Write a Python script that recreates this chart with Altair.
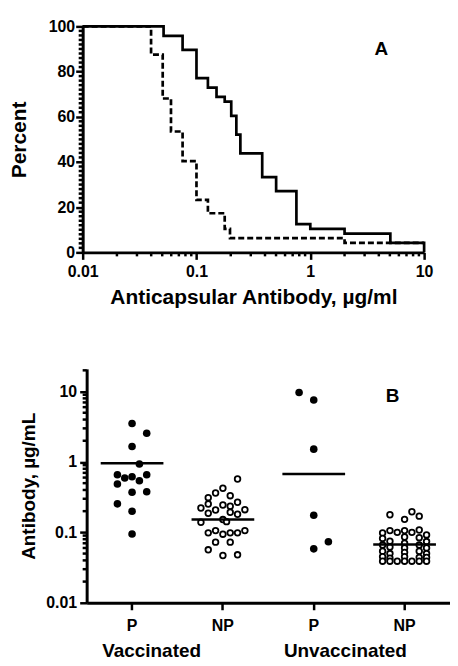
import altair as alt
import pandas as pd

FONT = "Liberation Sans"

# ---------------- Panel A: reverse cumulative distributions ----------------
solid_x = [0.01, 0.0514, 0.0755, 0.1, 0.126, 0.150, 0.177, 0.202, 0.224, 0.243,
           0.378, 0.501, 0.755, 1.0, 2.0, 5.05, 10.0]
solid_y = [100, 95.8, 89.6, 77.1, 72.9, 68.8, 66.7, 60.4, 52.1, 43.8,
           33.3, 27.1, 12.5, 10.4, 8.3, 4.2, 0]
dash_x = [0.01, 0.0399, 0.0505, 0.0597, 0.0755, 0.1, 0.126, 0.177, 0.197, 2.0, 10.0]
dash_y = [100, 87.5, 68.1, 53.5, 40.4, 23.2, 17.3, 10.4, 6.3, 4.2, 4.2]

x_major_a = [0.01, 0.1, 1.0, 10.0]
x_minor_a = [m * 10.0 ** e for e in (-2, -1, 0) for m in range(2, 10)]
y_major_a = [0, 20, 40, 60, 80, 100]
y_minor_a = [v for v in range(0, 101, 2) if v % 20 != 0]

# ---------------- Panel B: scatter by group ----------------
cats = ["VP", "VNP", "UP", "UNP"]

vp_values = [3.52, 2.56, 1.66, 0.933, 0.659, 0.486, 0.591, 0.618, 0.542, 0.659,
             0.371, 0.378, 0.254, 0.200, 0.095]
vp_offsets = [0, 2, 0, 1, -2, -2, -1, 0, 1, 2, 0, 2, -2, 0, 0]

vnp_values = [0.573, 0.423, 0.362, 0.332, 0.311, 0.268, 0.253, 0.245, 0.222, 0.208,
              0.235, 0.210, 0.187, 0.193, 0.181, 0.152, 0.139, 0.142, 0.0984, 0.106,
              0.0942, 0.0984, 0.0984, 0.106, 0.0726, 0.0726, 0.0565, 0.0469, 0.048]
vnp_offsets = [2, 0, -1, 1, -2, 2, -2, 0, -3, -1,
               1, 3, -2, 1, 2, 0, -3, 0.5, -2, -1,
               0, 1, 2, 3, -1, 1, -2, 0, 2]

up_values = [9.7, 7.6, 1.52, 0.175, 0.0735, 0.0583]
up_offsets = [-2, 0, 0, 0, 2, 0]

unp_values = [0.178, 0.196, 0.170, 0.153,
              0.098, 0.106, 0.100, 0.106, 0.100, 0.108, 0.092,
              0.082, 0.075, 0.086, 0.084, 0.074,
              0.066, 0.062, 0.070, 0.060, 0.066, 0.060,
              0.054, 0.050, 0.052, 0.054, 0.050,
              0.045, 0.043, 0.045, 0.044, 0.044,
              0.039, 0.039, 0.039, 0.039, 0.039, 0.039, 0.039]
unp_offsets = [-2, 1, 2, 0,
               -3, -2, -1, 0, 1, 2, 3,
               -3, -2, 0, 2, 3,
               -3, -2, 0, 0, 2, 3,
               -3, -2, 0, 2, 3,
               -3, -2, 0, 2, 3,
               -3, -2, -1, 0, 1, 2, 3]

means = [0.955, 0.152, 0.674, 0.067]
y_major_b = [0.01, 0.1, 1.0, 10.0]
y_minor_b = [m * 10.0 ** e for e in (-2, -1, 0) for m in range(2, 10)] + [20.0]

group_cats = ["VP", "UP"]
group_names = ["Vaccinated", "Unvaccinated"]

# ---------------- build data frames ----------------
df_solid = pd.DataFrame({"x": solid_x, "y": solid_y})
df_dash = pd.DataFrame({"x": dash_x, "y": dash_y})

filled = pd.DataFrame({
    "cat": ["VP"] * len(vp_values) + ["UP"] * len(up_values),
    "value": vp_values + up_values,
    "off": vp_offsets + up_offsets,
})
opened = pd.DataFrame({
    "cat": ["VNP"] * len(vnp_values) + ["UNP"] * len(unp_values),
    "value": vnp_values + unp_values,
    "off": vnp_offsets + unp_offsets,
})
df_means = pd.DataFrame({"cat": cats, "mean": means})
df_groups = pd.DataFrame({"cat": group_cats, "label": group_names})

common_axis = dict(
    domainColor="black", domainWidth=3, tickColor="black", tickWidth=2.5,
    labelFont=FONT, labelFontWeight="bold", labelColor="black",
    titleFont=FONT, titleFontWeight="bold", titleColor="black", grid=False,
    labelOverlap=False,
)

# ---------------- Panel A chart ----------------
WA, HA = 343, 227
xa = alt.X("x:Q", scale=alt.Scale(type="log", domain=[0.01, 10], nice=False),
           axis=alt.Axis(values=x_major_a, title="Anticapsular Antibody, µg/ml",
                         labelExpr="toString(datum.value)", tickSize=7,
                         labelFontSize=16, titleFontSize=21, labelPadding=4,
                         titlePadding=7, labelFlush=False, **common_axis))
ya = alt.Y("y:Q", scale=alt.Scale(domain=[0, 100], nice=False),
           axis=alt.Axis(values=y_major_a, title="Percent", tickSize=7,
                         labelFontSize=16, titleFontSize=21, labelPadding=1,
                         titlePadding=19, **common_axis))

dash_line = alt.Chart(df_dash).mark_line(
    interpolate="step-after", color="black", strokeWidth=2.7, strokeDash=[6, 3]
).encode(x=xa, y=ya)
solid_line = alt.Chart(df_solid).mark_line(
    interpolate="step-after", color="black", strokeWidth=2.7
).encode(x="x:Q", y="y:Q")
minor_xa = alt.Chart(pd.DataFrame({"x": x_minor_a})).mark_rule(
    color="black", strokeWidth=2.5
).encode(x="x:Q", y=alt.value(HA), y2=alt.value(HA + 4))
minor_ya = alt.Chart(pd.DataFrame({"y": y_minor_a})).mark_rule(
    color="black", strokeWidth=2.5
).encode(y="y:Q", x=alt.value(0), x2=alt.value(-4))
label_a = alt.Chart(pd.DataFrame({"x": [4.2], "y": [90], "t": ["A"]})).mark_text(
    font=FONT, fontWeight="bold", fontSize=19, color="black"
).encode(x="x:Q", y="y:Q", text="t:N")

panel_a = alt.layer(dash_line, solid_line, minor_xa, minor_ya, label_a).properties(
    width=WA, height=HA)

# ---------------- Panel B chart ----------------
SHIFT = 4
WB, HB = 365 + SHIFT, 235
xb = alt.X("cat:N", sort=cats,
           scale=alt.Scale(domain=cats, paddingInner=0, paddingOuter=0, range=[SHIFT, WB]),
           axis=alt.Axis(title=None, labelAngle=0, tickSize=7, labelPadding=8,
                         labelFontSize=16,
                         labelExpr="(datum.value == 'VP' || datum.value == 'UP') ? 'P' : 'NP'",
                         **common_axis))
yb = alt.Y("value:Q", scale=alt.Scale(type="log", domain=[0.01, 21], nice=False),
           axis=alt.Axis(values=y_major_b, title="Antibody, µg/mL",
                         labelExpr="toString(datum.value)", tickSize=7, offset=-SHIFT,
                         labelFontSize=16, titleFontSize=19, labelPadding=3,
                         titlePadding=7, **common_axis))
xoff = alt.XOffset("off:Q", scale=alt.Scale(domain=[-6.2, 6.2]))

pts_filled = alt.Chart(filled).mark_point(
    shape="circle", filled=True, color="black", size=58, opacity=1
).encode(x=xb, y=yb, xOffset=xoff)
pts_open = alt.Chart(opened).mark_point(
    shape="circle", filled=True, fill="white", stroke="black", strokeWidth=1.8,
    size=32, opacity=1
).encode(x="cat:N", y="value:Q", xOffset=xoff)
mean_ticks = alt.Chart(df_means).mark_tick(
    color="black", size=63, thickness=2.5, opacity=1
).encode(x="cat:N", y="mean:Q")
minor_yb = alt.Chart(pd.DataFrame({"value": y_minor_b})).mark_rule(
    color="black", strokeWidth=2.5
).encode(y="value:Q", x=alt.value(SHIFT), x2=alt.value(0))
label_b = alt.Chart(pd.DataFrame({"cat": ["UNP"], "value": [8.7], "t": ["B"]})).mark_text(
    font=FONT, fontWeight="bold", fontSize=19, color="black", dx=-12
).encode(x="cat:N", y="value:Q", text="t:N")
groups = alt.Chart(df_groups).mark_text(
    font=FONT, fontWeight="bold", fontSize=19, color="black", align="left", dx=-30
).encode(x="cat:N", y=alt.value(HB + 48), text="label:N")

panel_b = alt.layer(pts_filled, pts_open, mean_ticks, minor_yb, label_b, groups).properties(
    width=WB, height=HB)

chart = alt.vconcat(panel_a, panel_b, spacing=62).properties(
    padding={"left": 0, "top": 9, "right": 0, "bottom": 0}
).configure_view(strokeWidth=0)

chart.save("out.html", embed_options={"renderer": "svg", "actions": False})
